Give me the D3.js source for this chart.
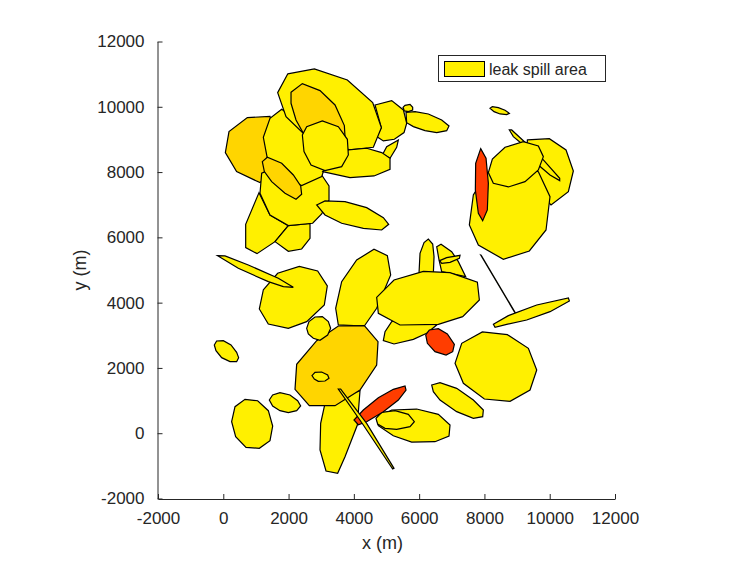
<!DOCTYPE html>
<html>
<head>
<meta charset="utf-8">
<script src="https://cdn.jsdelivr.net/npm/d3@7"></script>
<style>
html,body{margin:0;padding:0;background:#fff;}
svg{display:block;}
text{font-family:"Liberation Sans",Arial,sans-serif;}
</style>
</head>
<body>
<div id="chart"></div>
<script>
// Axis ticks and labels
const xTicks = [-2000,0,2000,4000,6000,8000,10000,12000];
const yTicks = [-2000,0,2000,4000,6000,8000,10000,12000];
const xLabel = "x (m)";
const yLabel = "y (m)";
const legendLabel = "leak spill area";

// Spill outlines in metres: each is [x, y] vertices
const spillI = [[1094,7370],[686,6400],[686,5685],[1033,5501],[1585,5869],[1993,6359],[1431,6686]];
const spillJ = [[1585,5869],[1993,5573],[2401,5644],[2657,5971],[2657,6431],[1993,6359]];
const spillD = [[737,9668],[1431,9709],[1636,8882],[1431,7963],[1125,7677],[408,8014],[63,8596],[175,9239]];
const spillG = [[1176,7963],[1125,7350],[1431,6686],[1993,6359],[2738,6431],[3014,6717],[3239,7145],[3239,7574],[3014,7911],[2401,7963],[1636,8167]];
const spillE = [[1789,9923],[1431,9648],[1227,9066],[1349,8422],[1789,7860],[2401,7585],[3014,7860],[3116,8167],[2963,8780],[2555,9444],[2044,9750]];
const spillL = [[4648,10056],[5159,10189],[5517,9903],[5619,9495],[5537,9209],[5241,9004],[4904,8953],[4699,9086],[4842,9362]];
const spillM = [[5506,9984],[5567,10045],[5721,10076],[5802,9984],[5802,9902],[5670,9851],[5547,9872]];
const spillN = [[5598,9831],[5874,9851],[6282,9780],[6691,9596],[6915,9412],[6844,9269],[6538,9208],[6180,9269],[5823,9392],[5618,9514]];
const spillA = [[1973,11006],[2790,11159],[3801,10822],[4577,10128],[4842,9362],[4597,8759],[3882,8678],[2963,9035],[2432,9209],[1922,9699],[1666,10434]];
const spillO = [[5363,8984],[5006,8780],[4883,8545],[5108,8422],[5312,8759]];
const spillF = [[3045,8014],[3882,7830],[4618,7881],[5108,8085],[5108,8422],[4853,8596],[4393,8729],[3831,8678],[3372,8371]];
const spillB = [[2075,10444],[2422,10710],[2963,10495],[3423,10056],[3709,9423],[3729,9086],[3065,8984],[2453,9188],[2228,9597],[2075,10107]];
const spillC = [[2422,9137],[2555,9392],[3035,9566],[3525,9392],[3801,9004],[3831,8524],[3627,8167],[3116,8044],[2688,8218],[2473,8626]];
const spillH = [[1196,8320],[1349,8453],[1789,8269],[2146,7911],[2371,7574],[2401,7319],[2228,7166],[1891,7350],[1482,7707],[1258,8014]];
const spillK = [[2861,6992],[3116,7115],[3729,7094],[4393,6911],[4904,6604],[5067,6400],[4853,6226],[4291,6277],[3627,6431],[3116,6686]];
const spillP = [[8172,9954],[8243,10005],[8427,9974],[8631,9892],[8764,9800],[8682,9759],[8478,9780],[8294,9851]];
const spillT = [[9315,8984],[9989,9024],[10500,8677],[10724,8034],[10571,7400],[10040,6992],[9601,7451],[9295,8269]];
const spillS = [[7660,7298],[7538,6379],[7814,5766],[8580,5327],[9376,5583],[9887,6226],[10009,7247],[9652,8013],[8784,8269],[8069,7962]];
const spillQ = [[8763,9290],[8835,9290],[9243,8912],[9805,8371],[10306,7809],[10306,7738],[10009,7911],[9652,8217],[9192,8830],[8886,9086]];
const spillR = [[8120,7983],[8243,8401],[8631,8759],[9192,8932],[9652,8800],[9805,8473],[9652,8064],[9243,7707],[8733,7544],[8273,7656]];
const spillU = [[7885,8718],[8049,8422],[8120,7656],[8089,6839],[7946,6512],[7814,6737],[7722,7451],[7732,8269]];
const spillV = [[5996,4898],[6027,5511],[6150,5838],[6282,5950],[6415,5797],[6456,5409],[6435,4898]];
const spillX = [[6538,5715],[6670,5787],[6997,5562],[7201,5256],[7426,4796],[6691,4949],[6609,5307]];
const spillY = [[6629,5286],[6844,5378],[7253,5450],[7232,5358],[6946,5235],[6691,5205]];
const spillZ = [[5159,3417],[4955,3111],[4903,2835],[5230,2733],[5823,2876],[6231,3060],[6538,3315],[5414,3571]];
const spillW = [[4699,4163],[5230,4694],[6129,4960],[6946,4919],[7784,4623],[7845,4081],[7334,3571],[6589,3336],[5414,3315],[4750,3673]];
const spillAA = [[6201,3009],[6313,3162],[6589,3203],[6864,3040],[7079,2723],[7028,2498],[6824,2396],[6486,2498],[6252,2754]];
const spillAB = [[7099,2141],[7304,2754],[7937,3101],[8703,3019],[9346,2600],[9602,1936],[9397,1324],[8785,977],[7998,1048],[7355,1528]];
const spillLine = [[7886,5460],[7900,5455],[8938,3703],[8925,3708]];
const spillAC = [[8274,3336],[8733,3601],[9602,3928],[10572,4143],[10602,4051],[10010,3724],[9295,3469],[8682,3336],[8325,3244]];
const spillAD = [[6384,1477],[6639,1548],[7150,1374],[7661,1017],[7967,711],[7947,506],[7661,455],[7150,660],[6639,1017],[6435,1272]];
const spillAE = [[5158,711],[5924,741],[6588,578],[6946,251],[6915,-86],[6486,-260],[5771,-270],[5209,-76],[4750,231],[4699,455]];
const spillAF = [[4678,455],[4852,639],[5261,690],[5669,578],[5853,353],[5720,200],[5312,118],[4954,149],[4729,282]];
const spillAQ = [[3524,3316],[3443,3826],[3626,4643],[4086,5307],[4617,5634],[5026,5440],[5128,4848],[4699,3826],[4321,3285]];
const spillAK = [[4188,1303],[4107,251],[3729,-719],[3504,-1230],[3147,-1158],[2963,-515],[2983,302],[3116,915]];
const spillAI = [[3525,3284],[4321,3294],[4740,2804],[4699,2089],[4188,1323],[3423,843],[2636,843],[2197,1344],[2248,2110],[2861,2835]];
const spillAJ = [[2717,1763],[2809,1865],[3014,1875],[3197,1783],[3238,1681],[3116,1600],[2911,1589],[2789,1661]];
const spillAG = [[5567,1446],[5598,1323],[5363,1017],[4903,660],[4392,353],[4137,261],[4004,404],[4290,711],[4750,1088],[5209,1344]];
const spillAH = [[3524,1354],[3596,1354],[4392,302],[5230,-1077],[5189,-1097],[4290,251]];
const spillAL = [[256,353],[359,813],[665,1037],[1053,996],[1380,690],[1513,220],[1431,-229],[1104,-464],[696,-433],[379,-107]];
const spillAM = [[1410,1018],[1512,1171],[1737,1242],[2043,1171],[2278,997],[2370,834],[2248,691],[1992,629],[1737,691],[1512,834]];
const spillAO = [[1226,4388],[1665,4899],[2329,5113],[2891,4970],[3187,4511],[3095,3928],[2554,3418],[1992,3214],[1379,3346],[1104,3806]];
const spillAN = [[2554,3213],[2625,3418],[2809,3561],[3034,3571],[3218,3418],[3289,3213],[3197,3009],[2962,2846],[2758,2907],[2605,3040]];
const spillAP = [[-173,5440],[52,5430],[767,5154],[1686,4745],[2145,4470],[1839,4490],[1379,4643],[460,5052]];
const spillAR = [[-275,2703],[-204,2825],[1,2835],[236,2703],[409,2478],[470,2315],[409,2192],[205,2192],[-50,2315],[-224,2529]];

// Draw order and severity class of each outline (1 yellow, 2 gold, 3 red)
const spills = [spillI,spillJ,spillD,spillG,spillE,spillL,spillM,spillN,spillA,spillO,spillF,spillB,spillC,spillH,spillK,
  spillP,spillT,spillS,spillQ,spillR,spillU,spillV,spillX,spillY,spillZ,spillAQ,spillW,spillAA,spillAB,spillLine,spillAC,
  spillAD,spillAE,spillAF,spillAK,spillAI,spillAJ,spillAG,spillAH,spillAL,spillAM,spillAO,spillAN,spillAP,spillAR];
const spillClass = [1,1,2,1,1,1,1,1,1,1,1,2,1,2,1,
  1,1,1,1,1,3,1,1,1,1,1,1,3,1,1,1,
  1,1,1,1,2,1,3,1,1,1,1,1,1,1];

const width = 747, height = 561;
const plotLeft = 158, plotRight = 615, plotTop = 41.5, plotBottom = 498.5;
const ink = "#262626";
const color = d3.scaleOrdinal().domain([1,2,3]).range(["#FFF000","#FFD500","#FF3D00"]);

const svg = d3.select("#chart").append("svg").attr("width",width).attr("height",height);
const x = d3.scaleLinear().domain([-2000,12000]).range([plotLeft,plotRight]);
const y = d3.scaleLinear().domain([-2000,12000]).range([plotBottom,plotTop]);
const line = d3.line().x(d=>x(d[0])).y(d=>y(d[1])).curve(d3.curveLinearClosed);

svg.append("g").selectAll("path").data(spills).join("path")
  .attr("d",line)
  .attr("fill",(d,i)=>color(spillClass[i]))
  .attr("stroke","#000")
  .attr("stroke-width",1.2)
  .attr("stroke-linejoin","miter");

const xAxis = svg.append("g").attr("transform",`translate(0,${plotBottom + 0.5})`)
  .call(d3.axisBottom(x).tickValues(xTicks).tickFormat(d=>String(d)).tickSizeInner(-5).tickSizeOuter(0).tickPadding(13));
const yAxis = svg.append("g").attr("transform",`translate(${plotLeft - 0.5},0)`)
  .call(d3.axisLeft(y).tickValues(yTicks).tickFormat(d=>String(d)).tickSizeInner(-5).tickSizeOuter(0).tickPadding(13));
[xAxis,yAxis].forEach(g=>{
  g.selectAll("path,line").attr("stroke",ink).attr("stroke-width",1);
  g.selectAll("text").attr("fill",ink).style("font-size","17px").style("font-family",'"Liberation Sans",Arial,sans-serif');
});

svg.append("text").attr("x",382.5).attr("y",549).attr("text-anchor","middle")
  .attr("fill",ink).style("font-size","18px").text(xLabel);
svg.append("text").attr("transform","translate(85.5,270) rotate(-90)").attr("text-anchor","middle")
  .attr("fill",ink).style("font-size","18px").text(yLabel);

const legend = svg.append("g");
legend.append("rect").attr("x",438.5).attr("y",55.5).attr("width",167).attr("height",26)
  .attr("fill","#fff").attr("stroke",ink).attr("stroke-width",1);
legend.append("rect").attr("x",444.5).attr("y",61.5).attr("width",40).attr("height",15)
  .attr("fill",color(1)).attr("stroke","#000").attr("stroke-width",1);
legend.append("text").attr("x",489).attr("y",75).attr("fill",ink).style("font-size","16px").text(legendLabel);
</script>
</body>
</html>
